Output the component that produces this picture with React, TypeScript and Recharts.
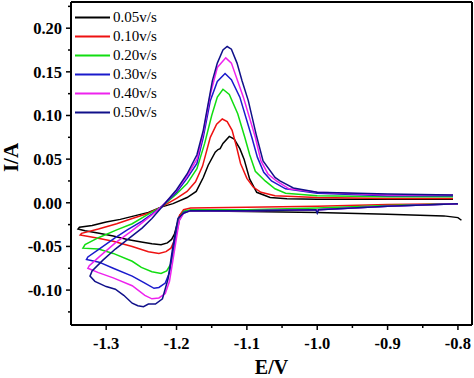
import React from 'react';
import { LineChart, Line, XAxis, YAxis, ReferenceLine, Legend } from 'recharts';

type Pt = [number, number];

// Scan-rate labels and colours
const seriesNames = ['0.05v/s', '0.10v/s', '0.20v/s', '0.30v/s', '0.40v/s', '0.50v/s'];
const seriesColors = ['#000000', '#ee1111', '#11dd11', '#1a1acc', '#ee22ee', '#10108a'];

// Each CV loop: cathodic sweep from -0.8 V leftwards, then anodic return sweep
const cv005: Pt[] = [
  [-0.795, -0.020], [-0.800, -0.017], [-0.820, -0.015], [-0.900, -0.013], [-1.000, -0.011], [-1.100, -0.010],
  [-1.180, -0.009], [-1.190, -0.010], [-1.195, -0.014], [-1.199, -0.024], [-1.203, -0.036], [-1.207, -0.042],
  [-1.213, -0.046], [-1.222, -0.048], [-1.235, -0.047], [-1.250, -0.045], [-1.270, -0.042], [-1.290, -0.038],
  [-1.310, -0.035], [-1.330, -0.032], [-1.340, -0.030],
  [-1.338, -0.028], [-1.320, -0.026], [-1.300, -0.022], [-1.280, -0.019], [-1.260, -0.015], [-1.240, -0.011],
  [-1.222, -0.005], [-1.205, -0.001], [-1.185, 0.006], [-1.172, 0.013], [-1.162, 0.029], [-1.155, 0.043],
  [-1.145, 0.058], [-1.141, 0.061], [-1.138, 0.062], [-1.134, 0.068], [-1.125, 0.076], [-1.118, 0.073],
  [-1.110, 0.062], [-1.104, 0.050], [-1.096, 0.027], [-1.086, 0.012], [-1.067, 0.006], [-1.043, 0.0045],
  [-1.000, 0.004], [-0.900, 0.004], [-0.807, 0.004],
];

const cv010: Pt[] = [
  [-0.800, -0.001], [-0.900, -0.002], [-1.000, -0.004], [-1.100, -0.005], [-1.180, -0.006], [-1.190, -0.008],
  [-1.196, -0.015], [-1.200, -0.030], [-1.204, -0.045], [-1.208, -0.052], [-1.215, -0.056], [-1.225, -0.058],
  [-1.240, -0.056], [-1.263, -0.050], [-1.290, -0.044], [-1.315, -0.040], [-1.337, -0.037],
  [-1.335, -0.035], [-1.311, -0.030], [-1.285, -0.024], [-1.263, -0.018], [-1.240, -0.012], [-1.222, -0.005],
  [-1.200, 0.005], [-1.185, 0.013], [-1.173, 0.024], [-1.163, 0.042], [-1.152, 0.075], [-1.143, 0.090],
  [-1.135, 0.096], [-1.128, 0.093], [-1.121, 0.083], [-1.115, 0.065], [-1.109, 0.045], [-1.100, 0.028],
  [-1.091, 0.018], [-1.080, 0.012], [-1.060, 0.008], [-1.000, 0.006], [-0.900, 0.005], [-0.807, 0.005],
];

const cv020: Pt[] = [
  [-0.800, -0.001], [-0.900, -0.003], [-1.000, -0.006], [-1.100, -0.008], [-1.180, -0.008], [-1.190, -0.010],
  [-1.196, -0.018], [-1.200, -0.032], [-1.204, -0.055], [-1.208, -0.070], [-1.214, -0.078], [-1.222, -0.081],
  [-1.235, -0.079], [-1.250, -0.074], [-1.263, -0.067], [-1.290, -0.058], [-1.311, -0.053], [-1.333, -0.052],
  [-1.330, -0.048], [-1.311, -0.040], [-1.285, -0.031], [-1.263, -0.024], [-1.240, -0.013], [-1.222, -0.005],
  [-1.200, 0.010], [-1.185, 0.022], [-1.171, 0.039], [-1.160, 0.068], [-1.150, 0.100], [-1.142, 0.121],
  [-1.134, 0.130], [-1.125, 0.124], [-1.113, 0.102], [-1.103, 0.075], [-1.096, 0.055], [-1.088, 0.036],
  [-1.074, 0.025], [-1.060, 0.016], [-1.045, 0.011], [-1.000, 0.008], [-0.900, 0.007], [-0.807, 0.007],
];

const cv030: Pt[] = [
  [-0.800, -0.001], [-0.900, -0.004], [-1.000, -0.008], [-1.100, -0.009], [-1.180, -0.009], [-1.190, -0.011],
  [-1.196, -0.020], [-1.200, -0.035], [-1.205, -0.055], [-1.210, -0.080], [-1.216, -0.092], [-1.225, -0.097],
  [-1.232, -0.098], [-1.245, -0.092], [-1.263, -0.084], [-1.290, -0.075], [-1.310, -0.068], [-1.328, -0.065],
  [-1.326, -0.062], [-1.310, -0.053], [-1.287, -0.040], [-1.270, -0.031], [-1.249, -0.021], [-1.235, -0.013],
  [-1.222, -0.005], [-1.200, 0.012], [-1.185, 0.028], [-1.171, 0.045], [-1.162, 0.075], [-1.152, 0.117],
  [-1.142, 0.139], [-1.131, 0.148], [-1.122, 0.141], [-1.110, 0.121], [-1.093, 0.075], [-1.085, 0.052],
  [-1.076, 0.035], [-1.065, 0.025], [-1.045, 0.016], [-1.000, 0.011], [-0.900, 0.008], [-0.807, 0.008],
];

const cv040: Pt[] = [
  [-0.800, -0.001], [-0.900, -0.004], [-1.000, -0.008], [-1.100, -0.009], [-1.180, -0.009], [-1.190, -0.012],
  [-1.196, -0.020], [-1.200, -0.040], [-1.205, -0.065], [-1.210, -0.090], [-1.216, -0.104], [-1.225, -0.109],
  [-1.235, -0.110], [-1.245, -0.106], [-1.263, -0.095], [-1.290, -0.086], [-1.311, -0.080], [-1.326, -0.075],
  [-1.324, -0.072], [-1.310, -0.062], [-1.287, -0.046], [-1.265, -0.033], [-1.249, -0.023], [-1.235, -0.014],
  [-1.222, -0.005], [-1.200, 0.014], [-1.185, 0.031], [-1.171, 0.050], [-1.162, 0.080], [-1.152, 0.124],
  [-1.142, 0.155], [-1.130, 0.166], [-1.122, 0.160], [-1.105, 0.121], [-1.088, 0.075], [-1.080, 0.048],
  [-1.070, 0.033], [-1.058, 0.025], [-1.040, 0.016], [-1.000, 0.012], [-0.900, 0.009], [-0.807, 0.009],
];

const cv050: Pt[] = [
  [-0.800, -0.001], [-0.900, -0.004], [-0.998, -0.008], [-1.000, -0.012], [-1.002, -0.008], [-1.100, -0.009],
  [-1.180, -0.009], [-1.190, -0.012], [-1.198, -0.018], [-1.205, -0.049], [-1.212, -0.087], [-1.220, -0.110],
  [-1.230, -0.116], [-1.240, -0.116], [-1.247, -0.119], [-1.255, -0.118], [-1.263, -0.115], [-1.275, -0.106],
  [-1.287, -0.099], [-1.300, -0.096], [-1.316, -0.090], [-1.323, -0.084],
  [-1.320, -0.078], [-1.305, -0.066], [-1.287, -0.053], [-1.268, -0.041], [-1.249, -0.029], [-1.235, -0.018],
  [-1.222, -0.006], [-1.200, 0.015], [-1.185, 0.033], [-1.171, 0.055], [-1.162, 0.083], [-1.149, 0.140],
  [-1.142, 0.160], [-1.134, 0.175], [-1.128, 0.179], [-1.122, 0.176], [-1.114, 0.160], [-1.107, 0.140],
  [-1.098, 0.117], [-1.087, 0.079], [-1.077, 0.048], [-1.060, 0.029], [-1.053, 0.025], [-1.034, 0.017],
  [-1.000, 0.012], [-0.900, 0.010], [-0.807, 0.009],
];

const allSeries: Pt[][] = [cv005, cv010, cv020, cv030, cv040, cv050];

// Axes
const xDomain: [number, number] = [-1.35, -0.78];
const yDomain: [number, number] = [-0.14, 0.23];
const xMajorTicks = [-1.3, -1.2, -1.1, -1.0, -0.9, -0.8];
const xMinorTicks = [-1.25, -1.15, -1.05, -0.95, -0.85];
const yMajorTicks = [-0.1, -0.05, 0, 0.05, 0.1, 0.15, 0.2];
const yMinorTicks = [-0.125, -0.075, -0.025, 0.025, 0.075, 0.125, 0.175, 0.225];

const FONT = '"Liberation Serif", "Times New Roman", serif';

const isMajor = (list: number[], v: number) => list.some((t) => Math.abs(t - v) < 1e-9);

const YTick = (props: any) => {
  const { x, y, payload } = props;
  const v = payload.value as number;
  const major = isMajor(yMajorTicks, v);
  return (
    <g>
      <line x1={x + (major ? 4 : 6)} x2={x + 9} y1={y} y2={y} stroke="#000" strokeWidth={1.5} />
      {major && (
        <text x={x} y={y} dy="0.355em" textAnchor="end" fontFamily={FONT} fontWeight="bold" fontSize={16.5} fill="#000">
          {v.toFixed(2)}
        </text>
      )}
    </g>
  );
};

const XTick = (props: any) => {
  const { x, y, payload } = props;
  const v = payload.value as number;
  const major = isMajor(xMajorTicks, v);
  return (
    <g>
      <line x1={x} x2={x} y1={y - 12} y2={y - (major ? 7 : 9)} stroke="#000" strokeWidth={1.5} />
      {major && (
        <text x={x} y={y} dy="0.71em" textAnchor="middle" fontFamily={FONT} fontWeight="bold" fontSize={16.5} fill="#000">
          {v.toFixed(1)}
        </text>
      )}
    </g>
  );
};

const YLabel = (props: any) => {
  const vb = props.viewBox || { x: 0, y: 2, width: 71, height: 323 };
  const cx = vb.x + 18;
  const cy = vb.y + vb.height / 2 - 6;
  return (
    <text x={cx} y={cy} transform={`rotate(-90, ${cx}, ${cy})`} textAnchor="middle" fontFamily={FONT} fontWeight="bold" fontSize={21} fill="#000">
      I/A
    </text>
  );
};

const LegendContent = (props: any) => {
  const payload = (props.payload || []) as any[];
  return (
    <div style={{ fontFamily: FONT, fontSize: 15, color: '#000' }}>
      {payload.map((p: any, i: number) => (
        <div key={i} style={{ height: 19, display: 'flex', alignItems: 'center' }}>
          <svg width={38} height={19} style={{ display: 'block' }}>
            <line x1={0} x2={35} y1={9.5} y2={9.5} stroke={p.color} strokeWidth={1.8} />
          </svg>
          <span style={{ lineHeight: '19px' }}>{p.value}</span>
        </div>
      ))}
    </div>
  );
};

export default function App() {
  const seriesData = allSeries.map((s) => s.map(([x, y]) => ({ x, y })));
  return (
    <div style={{ position: 'fixed', left: 0, top: 0, width: 474, height: 378, background: '#fff' }}>
      <LineChart width={474} height={378} margin={{ top: 2, right: 2, left: 0, bottom: 0 }}>
        <XAxis
          type="number"
          dataKey="x"
          domain={xDomain}
          allowDataOverflow
          ticks={[...xMajorTicks, ...xMinorTicks].sort((a, b) => a - b)}
          interval={0}
          tick={<XTick />}
          tickLine={false}
          tickSize={5}
          tickMargin={7}
          height={53}
          axisLine={{ stroke: '#000', strokeWidth: 2 }}
          label={{ value: 'E/V', position: 'insideBottom', offset: 4, fontFamily: FONT, fontWeight: 'bold', fontSize: 20, fill: '#000' }}
        />
        <YAxis
          type="number"
          domain={yDomain}
          allowDataOverflow
          ticks={[...yMajorTicks, ...yMinorTicks].sort((a, b) => a - b)}
          interval={0}
          tick={<YTick />}
          tickLine={false}
          tickSize={5}
          tickMargin={4}
          width={71}
          axisLine={{ stroke: '#000', strokeWidth: 2 }}
          label={{ content: <YLabel /> }}
        />
        <ReferenceLine y={yDomain[1]} stroke="#000" strokeWidth={2} ifOverflow="extendDomain" />
        <ReferenceLine x={xDomain[1]} stroke="#000" strokeWidth={2} ifOverflow="extendDomain" />
        {seriesData.map((d, i) => (
          <Line
            key={seriesNames[i]}
            data={d}
            dataKey="y"
            name={seriesNames[i]}
            type="linear"
            stroke={seriesColors[i]}
            strokeWidth={1.5}
            dot={false}
            activeDot={false}
            isAnimationActive={false}
          />
        ))}
        <Legend
          layout="vertical"
          align="center"
          verticalAlign="middle"
          content={<LegendContent />}
          wrapperStyle={{ position: 'absolute', left: 75, top: 8, width: 'auto', height: 'auto' }}
        />
      </LineChart>
    </div>
  );
}
